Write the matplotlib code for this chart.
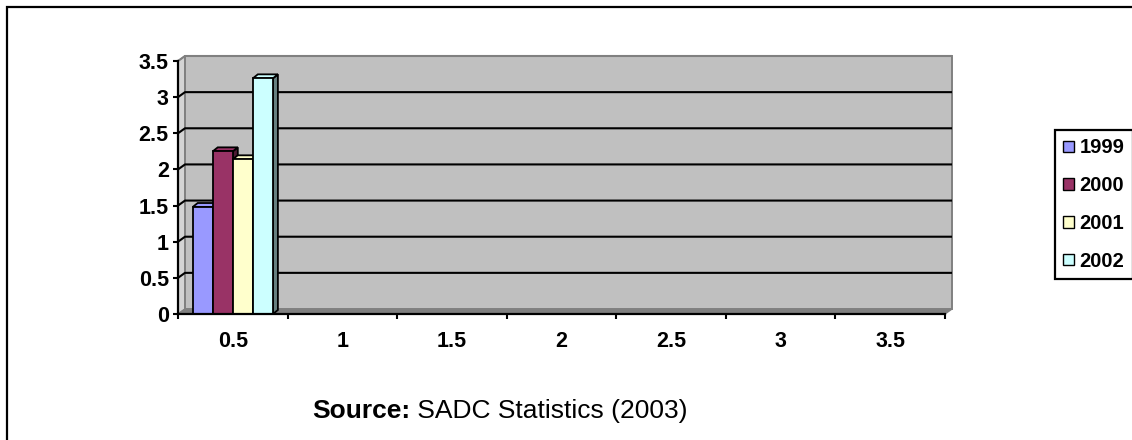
import numpy as np
import matplotlib
matplotlib.use("Agg")
import matplotlib.pyplot as plt
from matplotlib.patches import Polygon, Rectangle, Patch

plt.rcParams['font.family'] = ['Liberation Sans', 'DejaVu Sans']

# chart data (only the first category holds values)
categories = ["0.5", "1", "1.5", "2", "2.5", "3", "3.5"]
years = ["1999", "2000", "2001", "2002"]
v1999 = [1.48, None, None, None, None, None, None]
v2000 = [2.25, None, None, None, None, None, None]
v2001 = [2.14, None, None, None, None, None, None]
v2002 = [3.26, None, None, None, None, None, None]
series = [v1999, v2000, v2001, v2002]
y_ticks = [0, 0.5, 1, 1.5, 2, 2.5, 3, 3.5]

front_colors = ["#9999FF", "#993366", "#FFFFCC", "#CCFFFF"]
side_colors = ["#4D4D80", "#4D1A33", "#808066", "#668080"]

W, H = 1132, 440
fig = plt.figure(figsize=(W / 100, H / 100), dpi=100)
ax_l, ax_r, ax_t, ax_b = 178, 945, 61, 314
ax = fig.add_axes([ax_l / W, 1 - ax_b / H, (ax_r - ax_l) / W, (ax_b - ax_t) / H])
ax.set_xlim(0, len(categories))
ax.set_ylim(0, 3.5)
ax.patch.set_visible(False)

# pixel -> data unit helpers for the fake 3d depth
px_x = len(categories) / (ax_r - ax_l)
px_y = 3.5 / (ax_b - ax_t)
dx, dy = 7 * px_x, 5 * px_y      # wall depth
bdx, bdy = 5 * px_x, 4 * px_y    # bar depth
n = len(categories)

# side wall, floor, back wall
ax.add_patch(Polygon([(0, 0), (0, 3.5), (dx, 3.5 + dy), (dx, dy)], closed=True,
                     fc="#D4D4D4", ec="#808080", lw=1, zorder=0, clip_on=False))
ax.add_patch(Polygon([(0, 0), (n, 0), (n + dx, dy), (dx, dy)], closed=True,
                     fc="#808080", ec="#808080", lw=1, zorder=0, clip_on=False))
ax.add_patch(Rectangle((dx, dy), n, 3.5, fc="#C0C0C0", ec="#808080", lw=1.4,
                       zorder=0.5, clip_on=False))

# gridlines on the walls
for v in y_ticks[1:]:
    c = "black" if v < 3.5 else "#808080"
    ax.plot([0, dx, n + dx], [v, v + dy, v + dy], color=c, lw=1.5,
            zorder=1, clip_on=False, solid_capstyle="butt")

# bars
w = 0.183
for j in range(n):
    for i, vals in enumerate(series):
        h = vals[j]
        if h is None:
            continue
        x0 = j + 0.5 - 2 * w + i * w
        side = [(x0 + w, 0), (x0 + w + bdx, bdy), (x0 + w + bdx, h + bdy), (x0 + w, h)]
        top = [(x0, h), (x0 + w, h), (x0 + w + bdx, h + bdy), (x0 + bdx, h + bdy)]
        ax.add_patch(Polygon(side, closed=True, fc=side_colors[i], ec="black",
                             lw=1.3, zorder=3 + i * 0.1, clip_on=False))
        ax.add_patch(Polygon(top, closed=True, fc=front_colors[i], ec="black",
                             lw=1.3, zorder=3 + i * 0.1, clip_on=False))
        ax.add_patch(Rectangle((x0, 0), w, h, fc=front_colors[i], ec="black",
                               lw=1.3, zorder=3.05 + i * 0.1, clip_on=False))

for s in ["top", "right"]:
    ax.spines[s].set_visible(False)
for s in ["left", "bottom"]:
    ax.spines[s].set_linewidth(1.6)
    ax.spines[s].set_zorder(5)

ax.set_yticks(y_ticks)
ax.set_yticklabels([f"{t:g}" for t in y_ticks], fontsize=15.5, fontweight="bold")
ax.set_xticks(np.arange(n + 1))
ax.set_xticklabels([])
ax.set_xticks(np.arange(n) + 0.5, minor=True)
ax.set_xticklabels(categories, minor=True, fontsize=15.5, fontweight="bold")
ax.tick_params(axis="y", length=3.6, width=1.5, pad=3)
ax.tick_params(axis="x", which="major", length=3.6, width=1.5)
ax.tick_params(axis="x", which="minor", length=0, pad=12)

handles = [Patch(facecolor=c, edgecolor="black", lw=1) for c in front_colors]
leg = fig.legend(handles, years, loc="upper left", bbox_to_anchor=(1055 / W, 1 - 130 / H),
                 bbox_transform=fig.transFigure, borderaxespad=0, frameon=True,
                 fancybox=False, edgecolor="black", framealpha=1,
                 prop={"size": 14.5, "weight": "bold"},
                 handlelength=0.5, handleheight=0.5, handletextpad=0.3,
                 labelspacing=0.93, borderpad=0.42)
leg.get_frame().set_linewidth(1.6)

# outer chart border (runs off the right and bottom edges)
fig.patches.append(Rectangle((7 / W, -0.1), 1.2, 1 - 7 / H + 0.1, transform=fig.transFigure,
                             fill=False, ec="black", lw=1.6))

t1 = fig.text(312 / W, 1 - 411 / H, "Source:", fontsize=19, fontweight="bold",
              ha="left", va="center")
ax.annotate(" SADC Statistics (2003)", xy=(1, 0), xycoords=t1, fontsize=19,
            ha="left", va="bottom", annotation_clip=False)

fig.savefig("out.png", dpi=100)
